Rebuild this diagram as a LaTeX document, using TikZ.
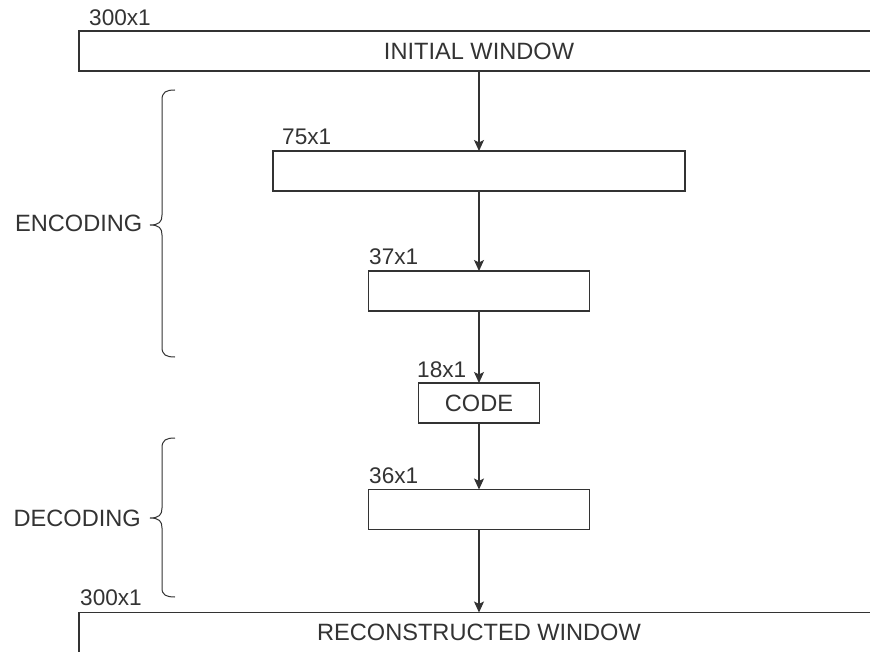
\documentclass[tikz,border=0pt]{standalone}
\usepackage{fontspec}
\setmainfont{Liberation Sans}
\usetikzlibrary{arrows.meta}
\definecolor{ink}{HTML}{333333}
\begin{document}
\begin{tikzpicture}[x=1pt,y=-1pt,
  layer/.style={draw=ink, line width=1.4pt, fill=white, inner sep=0pt, outer sep=0pt,
    minimum height=40pt, text=ink, font=\fontsize{23.6pt}{26pt}\selectfont},
  dim/.style={anchor=base west, inner sep=0pt, text=ink, font=\fontsize{22.6pt}{25pt}\selectfont},
  side/.style={anchor=base east, inner sep=0pt, text=ink, font=\fontsize{23.6pt}{26pt}\selectfont},
  flow/.style={draw=ink, line width=1.1pt, -{Stealth[length=11pt,width=10pt,inset=2.5pt]}},
  brace/.style={draw=ink, line width=1pt}]
  \useasboundingbox (0,0) rectangle (870,652);
  \clip (0,0) rectangle (870,652);
  \fill[white] (0,0) rectangle (870,652);

  % layer boxes, centred on the same vertical axis
  \node[layer, minimum width=800pt] (init) at (479,51) {INITIAL WINDOW};
  \node[layer, minimum width=412pt] (enc1) at (479,171) {};
  \node[layer, minimum width=221pt] (enc2) at (479,291) {};
  \node[layer, minimum width=121pt] (code) at (479,403) {CODE};
  \node[layer, minimum width=221pt] (dec1) at (479,509.5) {};
  \node[layer, minimum width=800pt] (rec) at (479,632.5) {RECONSTRUCTED WINDOW};

  % sizes
  \node[dim] (s300a) at (89,25.5) {300x1};
  \node[dim] (s75) at (282,145) {75x1};
  \node[dim] (s37) at (369,265) {37x1};
  \node[dim] (s18) at (417,377.3) {18x1};
  \node[dim] (s36) at (369,483.5) {36x1};
  \node[dim] (s300b) at (80,605.5) {300x1};

  % flow between layers
  \draw[flow] (init) -- (enc1);
  \draw[flow] (enc1) -- (enc2);
  \draw[flow] (enc2) -- (code);
  \draw[flow] (code) -- (dec1);
  \draw[flow] (dec1) -- (rec);

  % encoder / decoder braces
  \node[side] (enclab) at (142.5,231.7) {ENCODING};
  \node[side] (declab) at (141,526) {DECODING};

  \draw[brace] (175,90) .. controls (166,90) and (162,92) .. (162,100)
    -- (162,215) .. controls (162,222) and (159,225) .. (150,225)
    .. controls (159,225) and (162,228) .. (162,235)
    -- (162,347) .. controls (162,355) and (166,357) .. (175,357);
  \draw[brace] (175,438) .. controls (166,438) and (162,440) .. (162,448)
    -- (162,508) .. controls (162,515) and (159,518) .. (150,518)
    .. controls (159,518) and (162,521) .. (162,528)
    -- (162,588) .. controls (162,595) and (166,597) .. (175,597);
\end{tikzpicture}
\end{document}
